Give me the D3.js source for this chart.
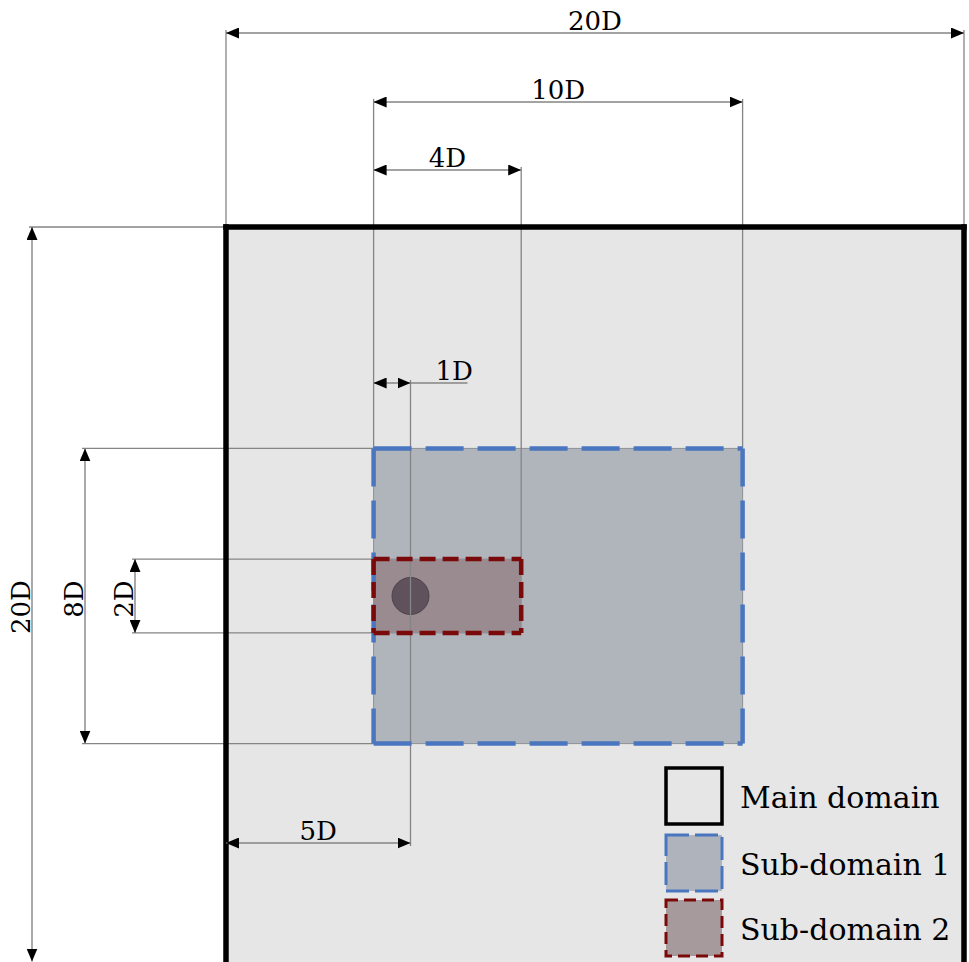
<!DOCTYPE html>
<html>
<head>
<meta charset="utf-8">
<script src="https://cdn.jsdelivr.net/npm/d3@7"></script>
<style>
  html, body { margin: 0; padding: 0; background: #ffffff; }
  svg { display: block; }
</style>
</head>
<body>
<div id="chart"></div>
<script>
// ---------- data (in units of cylinder diameter D) ----------
const domainNames = ["Main domain", "Sub-domain 1", "Sub-domain 2"];
const domainX0 = [0, 4, 4];
const domainX1 = [20, 14, 8];
const domainY0 = [0, 6, 9];
const domainY1 = [20, 14, 11];

const cylinderCenter = [5, 10];
const cylinderDiameter = 1;

const hDimLabels = ["20D", "10D", "4D", "1D", "5D"];
const hDimFrom = [0, 4, 4, 4, 0];
const hDimTo = [20, 14, 8, 5, 5];

const vDimLabels = ["20D", "8D", "2D"];
const vDimFrom = [0, 6, 9];
const vDimTo = [20, 14, 11];

// ---------- layout / styles ----------
const W = 969, H = 962;
const x = d3.scaleLinear().domain([0, 20]).range([226, 964]);
const y = d3.scaleLinear().domain([0, 20]).range([227, 965]);

const hDimLineY = [33, 102, 170, 383, 843];      // px rows of horizontal dimension lines
const vDimLineX = [32, 85, 135];                 // px columns of vertical dimension lines
const vLabelShift = [11, 3, 3];

const domainFill = ["#e6e6e6", "#b0b4bb", "#9a8b90"];
const domainStroke = ["#000000", "#4a76c0", "#7a0a0a"];
const domainDash = [null, "38,14", "16,7"];
const domainStrokeW = [5.5, 4.5, 4.5];
const legendFill = ["#e6e6e6", "#afb4bc", "#a69a9c"];
const legendDash = [null, "23,6", "12,6"];

const lineColor = "#858585";
const serif = "'DejaVu Serif', 'Liberation Serif', serif";

const svg = d3.select("#chart").append("svg")
  .attr("width", W).attr("height", H)
  .attr("viewBox", `0 0 ${W} ${H}`);

const defs = svg.append("defs");
function marker(id, path) {
  defs.append("marker")
    .attr("id", id)
    .attr("viewBox", "0 0 13 11")
    .attr("refX", 13).attr("refY", 5.5)
    .attr("markerWidth", 13).attr("markerHeight", 11)
    .attr("markerUnits", "userSpaceOnUse")
    .attr("orient", "auto-start-reverse")
    .append("path").attr("d", path).attr("fill", "#000");
}
marker("arrow", "M0,0 L13,5.5 L0,11 Z");

// ---------- domain fills ----------
const dom = domainNames.map((n, i) => ({
  name: n, x0: domainX0[i], x1: domainX1[i], y0: domainY0[i], y1: domainY1[i], i
}));

svg.append("g").selectAll("rect.fill").data(dom).join("rect")
  .attr("class", "fill")
  .attr("x", d => x(d.x0)).attr("y", d => y(d.y0))
  .attr("width", d => x(d.x1) - x(d.x0)).attr("height", d => y(d.y1) - y(d.y0))
  .attr("fill", d => domainFill[d.i])
  .attr("stroke", d => d.i === 0 ? "none" : "#8a8f99")
  .attr("stroke-width", 1);

// cylinder
svg.append("circle")
  .attr("cx", x(cylinderCenter[0])).attr("cy", y(cylinderCenter[1]))
  .attr("r", (x(cylinderDiameter) - x(0)) / 2)
  .attr("fill", "#5f525d").attr("stroke", "#4a4048").attr("stroke-width", 1);

// ---------- extension lines ----------
const ext = svg.append("g").attr("stroke", lineColor).attr("stroke-width", 1.3).attr("fill", "none");
function seg(x1, y1, x2, y2) {
  ext.append("line").attr("x1", x1).attr("y1", y1).attr("x2", x2).attr("y2", y2);
}
// vertical extensions for horizontal dims
seg(x(hDimFrom[0]), hDimLineY[0] - 3, x(hDimFrom[0]), y(domainY0[0]));
seg(x(hDimTo[0]), hDimLineY[0] - 3, x(hDimTo[0]), y(domainY0[0]));
seg(x(hDimFrom[1]), hDimLineY[1] - 3, x(hDimFrom[1]), y(domainY0[1]));
seg(x(hDimTo[1]), hDimLineY[1] - 3, x(hDimTo[1]), y(domainY0[1]));
seg(x(hDimTo[2]), hDimLineY[2] - 3, x(hDimTo[2]), y(domainY0[2]));
seg(x(hDimTo[3]), hDimLineY[3] - 3, x(hDimTo[3]), hDimLineY[4] + 3);
// leader line under 1D label
seg(x(hDimTo[3]), hDimLineY[3], x(hDimTo[3]) + 57, hDimLineY[3]);
// horizontal extensions for vertical dims
seg(vDimLineX[0] - 3, y(vDimFrom[0]), x(domainX0[0]), y(vDimFrom[0]));
seg(vDimLineX[1] - 3, y(vDimFrom[1]), x(domainX0[1]), y(vDimFrom[1]));
seg(vDimLineX[1] - 3, y(vDimTo[1]), x(domainX0[1]), y(vDimTo[1]));
seg(vDimLineX[2] - 3, y(vDimFrom[2]), x(domainX0[2]), y(vDimFrom[2]));
seg(vDimLineX[2] - 3, y(vDimTo[2]), x(domainX0[2]), y(vDimTo[2]));

// ---------- domain outlines ----------
const outl = svg.append("g").attr("fill", "none");
dom.forEach(d => {
  const x0 = x(d.x0), x1 = x(d.x1), y0 = y(d.y0), y1 = y(d.y1);
  const sides = [[x0, y0, x1, y0], [x1, y0, x1, y1], [x0, y1, x1, y1], [x0, y0, x0, y1]];
  sides.forEach(s => {
    outl.append("line")
      .attr("x1", s[0]).attr("y1", s[1]).attr("x2", s[2]).attr("y2", s[3])
      .attr("stroke", domainStroke[d.i])
      .attr("stroke-width", domainStrokeW[d.i])
      .attr("stroke-linecap", d.i === 0 ? "square" : "butt")
      .attr("stroke-dasharray", domainDash[d.i]);
  });
});

// ---------- dimension lines ----------
const dims = svg.append("g");
const hDims = hDimLabels.map((l, i) => ({ l, a: hDimFrom[i], b: hDimTo[i], py: hDimLineY[i], i }));
dims.selectAll("line.h").data(hDims).join("line")
  .attr("class", "h")
  .attr("x1", d => x(d.a)).attr("x2", d => x(d.b))
  .attr("y1", d => d.py).attr("y2", d => d.py)
  .attr("stroke", lineColor).attr("stroke-width", 1.4)
  .attr("marker-start", "url(#arrow)").attr("marker-end", "url(#arrow)");

dims.selectAll("text.h").data(hDims).join("text")
  .attr("class", "h")
  .attr("x", d => d.l === "1D" ? x(d.b) + 25 : (x(d.a) + x(d.b)) / 2)
  .attr("y", d => d.py - 3)
  .attr("text-anchor", d => d.l === "1D" ? "start" : "middle")
  .attr("font-family", serif).attr("font-size", 26).attr("fill", "#000")
  .text(d => d.l);

const vDims = vDimLabels.map((l, i) => ({ l, a: vDimFrom[i], b: vDimTo[i], px: vDimLineX[i], i }));
dims.selectAll("line.v").data(vDims).join("line")
  .attr("class", "v")
  .attr("x1", d => d.px).attr("x2", d => d.px)
  .attr("y1", d => y(d.a)).attr("y2", d => Math.min(y(d.b), H - 0.5))
  .attr("stroke", lineColor).attr("stroke-width", 1.4)
  .attr("marker-start", "url(#arrow)").attr("marker-end", "url(#arrow)");

dims.selectAll("text.v").data(vDims).join("text")
  .attr("class", "v")
  .attr("transform", d => `translate(${d.px - 2},${(y(d.a) + y(d.b)) / 2 + vLabelShift[d.i]}) rotate(-90)`)
  .attr("text-anchor", "middle")
  .attr("font-family", serif).attr("font-size", 26).attr("fill", "#000")
  .text(d => d.l);

// ---------- legend ----------
const legX = 666, legY = [768, 835, 900], legS = 56;
const leg = svg.append("g");
dom.forEach(d => {
  leg.append("rect")
    .attr("x", legX).attr("y", legY[d.i]).attr("width", legS).attr("height", legS)
    .attr("fill", legendFill[d.i])
    .attr("stroke", domainStroke[d.i])
    .attr("stroke-width", d.i === 0 ? 3.5 : 3)
    .attr("stroke-dasharray", legendDash[d.i]);
  leg.append("text")
    .attr("x", legX + 74).attr("y", legY[d.i] + 40)
    .attr("font-family", serif).attr("font-size", 30).attr("fill", "#000")
    .text(d.name);
});
</script>
</body>
</html>
